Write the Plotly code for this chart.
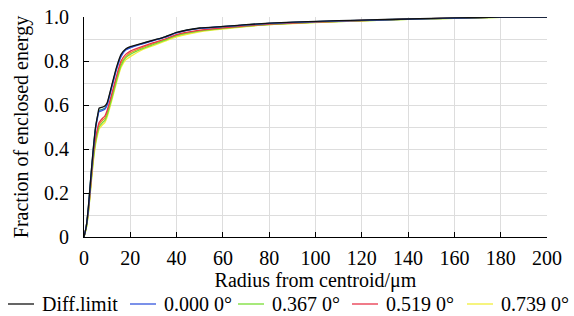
import plotly.graph_objects as go

radius = [0, 1, 2, 3, 4, 5, 6, 6.5, 8, 9, 10, 12, 14, 16, 18, 20, 25, 30, 35, 40, 50, 60, 70, 80, 100, 120, 140, 160, 180, 200]

diff_limit = [0, 0.05, 0.15, 0.28, 0.40, 0.50, 0.56, 0.585, 0.59, 0.595, 0.61, 0.69, 0.77, 0.83, 0.855, 0.865, 0.88, 0.895, 0.91, 0.93, 0.95, 0.957, 0.965, 0.972, 0.98, 0.986, 0.991, 0.996, 0.999, 1.0]
f0000 = [0, 0.05, 0.14, 0.27, 0.39, 0.49, 0.55, 0.57, 0.575, 0.58, 0.60, 0.68, 0.76, 0.82, 0.85, 0.86, 0.877, 0.893, 0.908, 0.928, 0.948, 0.956, 0.964, 0.971, 0.979, 0.985, 0.99, 0.995, 0.999, 1.0]
f0367 = [0, 0.04, 0.12, 0.24, 0.35, 0.43, 0.48, 0.50, 0.52, 0.53, 0.555, 0.63, 0.71, 0.78, 0.815, 0.83, 0.855, 0.875, 0.895, 0.915, 0.937, 0.948, 0.958, 0.966, 0.976, 0.983, 0.989, 0.994, 0.998, 1.0]
f0519 = [0, 0.05, 0.13, 0.25, 0.37, 0.45, 0.50, 0.52, 0.54, 0.55, 0.575, 0.65, 0.73, 0.80, 0.83, 0.845, 0.865, 0.883, 0.9, 0.92, 0.94, 0.951, 0.96, 0.968, 0.977, 0.984, 0.99, 0.995, 0.999, 1.0]
f0739 = [0, 0.04, 0.12, 0.23, 0.34, 0.42, 0.47, 0.49, 0.51, 0.52, 0.545, 0.62, 0.70, 0.77, 0.805, 0.82, 0.85, 0.87, 0.89, 0.91, 0.933, 0.945, 0.956, 0.965, 0.975, 0.983, 0.989, 0.994, 0.998, 1.0]
f_extra1 = [0, 0.05, 0.15, 0.28, 0.40, 0.50, 0.555, 0.575, 0.58, 0.585, 0.605, 0.685, 0.765, 0.825, 0.852, 0.862, 0.879, 0.894, 0.909, 0.929, 0.949, 0.956, 0.964, 0.971, 0.979, 0.985, 0.99, 0.995, 0.999, 1.0]
f_extra2 = [0, 0.045, 0.13, 0.25, 0.36, 0.44, 0.49, 0.51, 0.53, 0.54, 0.565, 0.64, 0.72, 0.79, 0.82, 0.838, 0.86, 0.879, 0.897, 0.917, 0.938, 0.95, 0.959, 0.967, 0.977, 0.984, 0.99, 0.995, 0.999, 1.0]

legend_names = ["Diff.limit", "0.000 0°", "0.367 0°", "0.519 0°", "0.739 0°"]
series = [
    (legend_names[0], diff_limit, "#111111"),
    (legend_names[1], f0000, "#3355dd"),
    (legend_names[2], f0367, "#77dd33"),
    (legend_names[3], f0519, "#e8334a"),
    (legend_names[4], f0739, "#f2ee3a"),
    ("teal", f_extra1, "#2a8f8a"),
    ("orange", f_extra2, "#f08a2a"),
]

FONT = "Liberation Serif, DejaVu Serif, serif"
W, H = 574, 316
ML, MR, MT, MB = 84, 27, 17, 79
PW, PH = W - ML - MR, H - MT - MB

fig = go.Figure()
for idx in [4, 6, 2, 3, 5, 1, 0]:
    name, ys, col = series[idx]
    fig.add_trace(go.Scatter(x=radius, y=ys, mode="lines", name=name,
                             line=dict(color=col, width=1.3, shape="spline", smoothing=0.5),
                             showlegend=False))

def px(xp):
    return (xp - ML) / PW

def py(yp):
    return (H - MB - yp) / PH

key_starts = [8, 130, 238, 352, 467]
legend_y = 304
for (name, _, col), x0 in zip(series[:5], key_starts):
    fig.add_shape(type="line", xref="paper", yref="paper",
                  x0=px(x0), x1=px(x0 + 26), y0=py(legend_y), y1=py(legend_y),
                  line=dict(color=col, width=1.3))
    fig.add_annotation(text=name, xref="paper", yref="paper", x=px(x0 + 32), y=py(legend_y),
                       xanchor="left", yanchor="middle", showarrow=False,
                       font=dict(family=FONT, size=20, color="black"))

tf = dict(family=FONT, size=20, color="black")
fig.update_layout(
    width=W, height=H,
    margin=dict(l=ML, r=MR, t=MT, b=MB, autoexpand=False),
    paper_bgcolor="white", plot_bgcolor="white",
    font=tf,
    showlegend=False,
    xaxis=dict(range=[0, 200], dtick=20, showgrid=True, gridcolor="#dddddd", gridwidth=1,
               showline=True, linecolor="black", linewidth=1, ticks="inside", ticklen=5,
               tickcolor="black", tickfont=tf, zeroline=False, automargin=False,
               ticklabelstandoff=3,
               title=dict(text="Radius from centroid/μm", font=tf, standoff=4)),
    yaxis=dict(range=[0, 1.0], showline=True, linecolor="black", linewidth=1,
               ticks="inside", ticklen=5, tickcolor="black", tickfont=tf,
               zeroline=False, automargin=False, ticklabelstandoff=10,
               tickvals=[0, 0.2, 0.4, 0.6, 0.8, 1.0], ticktext=["0", "0.2", "0.4", "0.6", "0.8", "1.0"],
               showgrid=True, gridcolor="#dddddd", gridwidth=1,
               minor=dict(dtick=0.1, showgrid=True, gridcolor="#dddddd", gridwidth=1, ticks=""),
               title=dict(text="Fraction of enclosed energy", font=tf, standoff=10)),
)
fig.write_html("out.html", config={"displayModeBar": False},
               post_script="document.body.style.margin='0';document.body.style.padding='0';document.body.style.overflow='hidden';")
